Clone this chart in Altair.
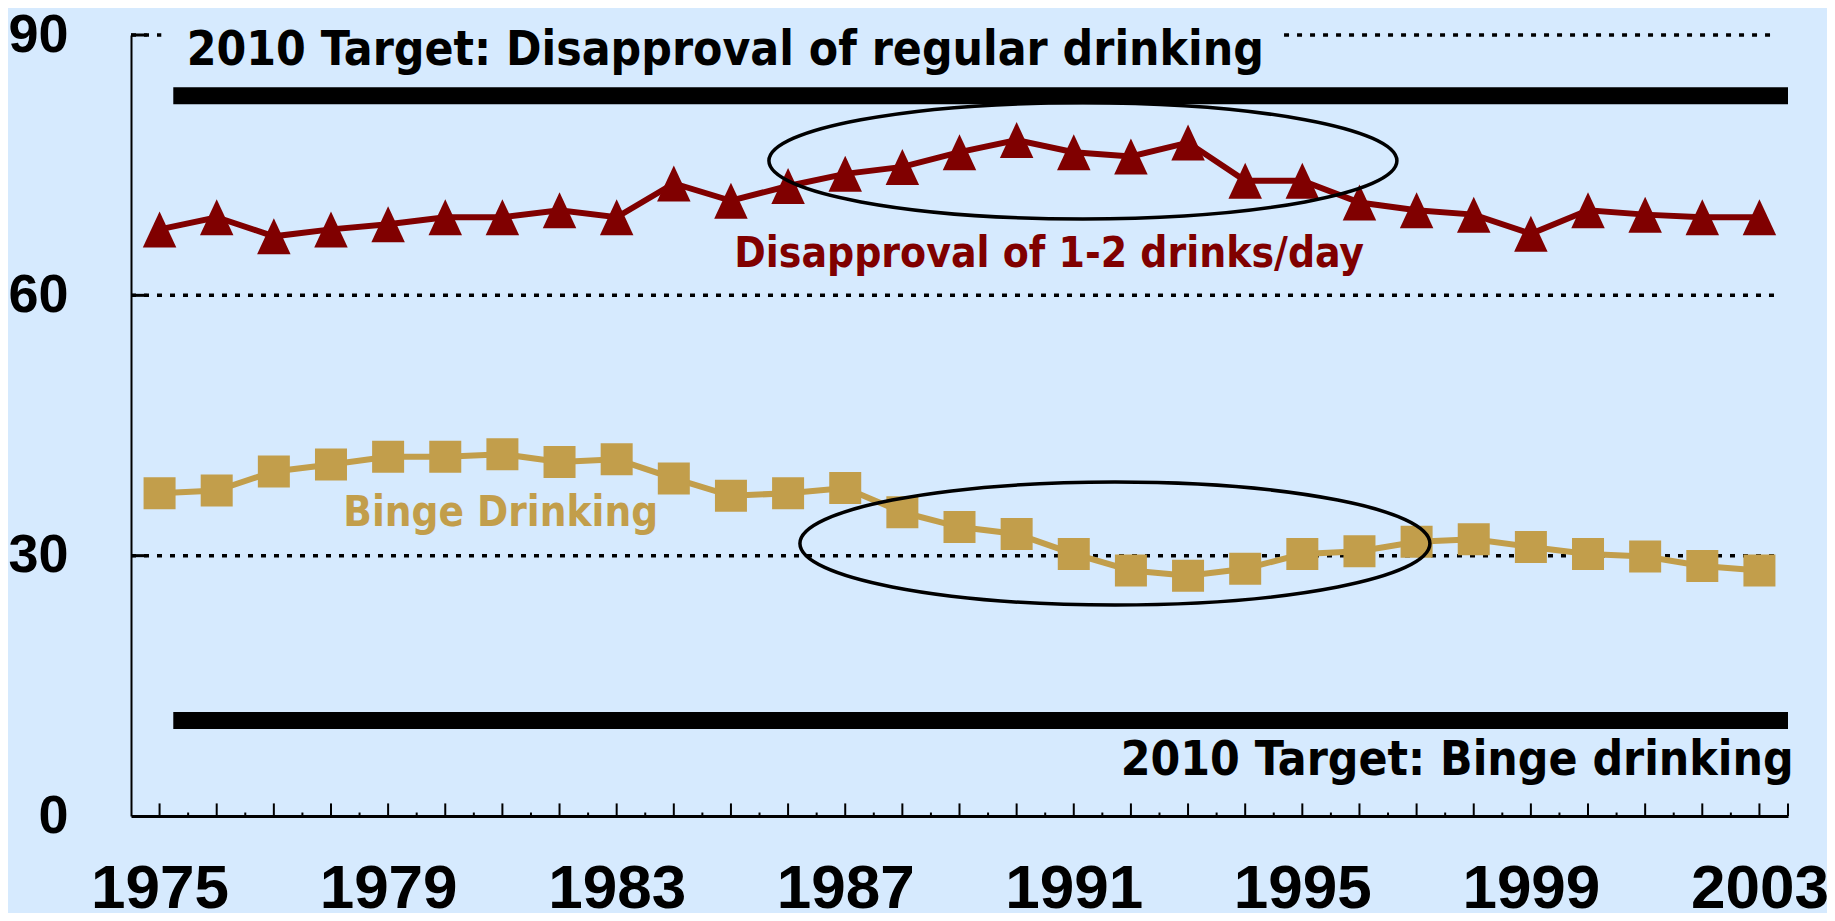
import altair as alt
import pandas as pd

years = list(range(1975, 2004))
disapproval = [67.6, 69.0, 66.8, 67.6, 68.2, 69.0, 69.0, 69.8, 69.0, 72.9,
               70.9, 72.6, 74.0, 74.8, 76.5, 77.9, 76.5, 76.0, 77.6, 73.2,
               73.2, 70.7, 69.8, 69.3, 67.1, 69.8, 69.3, 69.0, 69.0]
binge = [37.2, 37.5, 39.7, 40.5, 41.4, 41.4, 41.7, 40.8, 41.1, 38.9,
         36.9, 37.2, 37.8, 35.0, 33.3, 32.5, 30.2, 28.3, 27.7, 28.5,
         30.2, 30.5, 31.6, 31.9, 31.0, 30.2, 29.9, 28.8, 28.3]
x_labels = [1975, 1979, 1983, 1987, 1991, 1995, 1999, 2003]
y_labels = [0, 30, 60, 90]
targets = [83, 11]
target_texts = ["2010 Target: Disapproval of regular drinking", "2010 Target: Binge drinking"]
series_texts = ["Disapproval of 1-2 drinks/day", "Binge Drinking"]

BG = "#D6EAFE"
RED = "#800000"
GOLD = "#C29E4B"
TFONT = "DejaVu Sans Condensed, DejaVu Sans"
AFONT = "Liberation Sans Narrow, Liberation Sans"

xs = alt.Scale(domain=[1974.5, 2003.5], nice=False, zero=False)
ys = alt.Scale(domain=[0, 90], nice=False, zero=False)
xaxis = alt.Axis(values=x_labels, format="d", title=None, grid=False, ticks=False,
                 domainColor="black", domainWidth=3, labelFont=AFONT,
                 labelFontSize=62, labelFontWeight="bold", labelColor="black",
                 labelPadding=42, labelFlush=False, labelOverlap=False)
yaxis = alt.Axis(values=y_labels, title=None, grid=False, ticks=False,
                 domainColor="black", domainWidth=2, labelFont=AFONT,
                 labelFontSize=54, labelFontWeight="bold", labelColor="black",
                 labelPadding=63)


def X(f="x"):
    return alt.X(f"{f}:Q", scale=xs, axis=xaxis)


def Y(f="y"):
    return alt.Y(f"{f}:Q", scale=ys, axis=yaxis)


series = pd.DataFrame({"x": years, "d": disapproval, "b": binge})

# dotted gridlines (top one interrupted by the title box)
grid = pd.DataFrame({
    "x": [1974.5, 1974.5, 1974.5, 1994.68],
    "x2": [2003.3, 2003.3, 1975.03, 2003.3],
    "y": [30, 60, 90, 90],
})
grid_layer = alt.Chart(grid).mark_rule(color="black", strokeWidth=3.5, strokeDash=[5, 8]).encode(
    x=X(), x2="x2:Q", y=Y())

# y ticks (inward)
ytk = pd.DataFrame({"x": [1974.5] * 3, "x2": [1974.78] * 3, "y": [30, 60, 90]})
ytick_layer = alt.Chart(ytk).mark_rule(color="black", strokeWidth=3).encode(
    x=X(), x2="x2:Q", y=Y())

# x ticks: major at years, minor at half-years
major = pd.DataFrame({"x": years + [2003.5], "y": 0, "y2": 1.45})
minor = pd.DataFrame({"x": [y + 0.5 for y in years[:-1]], "y": 0, "y2": 0.4})
major_layer = alt.Chart(major).mark_rule(color="black", strokeWidth=2).encode(
    x=X(), y=Y(), y2="y2:Q")
minor_layer = alt.Chart(minor).mark_rule(color="black", strokeWidth=2).encode(
    x=X(), y=Y(), y2="y2:Q")

# target lines
tgt = pd.DataFrame({"x": [1975.24, 1975.24], "x2": [2003.5, 2003.5], "y": targets})
tgt_layer = alt.Chart(tgt).mark_rule(color="black", strokeWidth=17, strokeCap="butt").encode(
    x=X(), x2="x2:Q", y=Y())

# series
red_line = alt.Chart(series).mark_line(color=RED, strokeWidth=6).encode(x=X(), y=Y("d"))
red_pts = alt.Chart(series).mark_point(shape="M0,-1L0.93,1L-0.93,1Z", size=1296, filled=True,
                                       fill=RED, opacity=1, strokeWidth=0).encode(x=X(), y=Y("d"))
gold_line = alt.Chart(series).mark_line(color=GOLD, strokeWidth=6).encode(x=X(), y=Y("b"))
gold_pts = alt.Chart(series).mark_point(shape="square", size=1024, filled=True,
                                        fill=GOLD, opacity=1, strokeWidth=0).encode(x=X(), y=Y("b"))


def ellipse_path(r):
    k = 0.5523
    return (f"M-1,0C-1,{-k*r:.4f} {-k:.4f},{-r:.4f} 0,{-r:.4f}"
            f"C{k:.4f},{-r:.4f} 1,{-k*r:.4f} 1,0"
            f"C1,{k*r:.4f} {k:.4f},{r:.4f} 0,{r:.4f}"
            f"C{-k:.4f},{r:.4f} -1,{k*r:.4f} -1,0Z")


ell1 = alt.Chart(pd.DataFrame({"x": [1991.16], "y": [75.5]})).mark_point(
    shape=ellipse_path(0.185), size=628 ** 2, filled=False, stroke="black",
    strokeWidth=3.5, opacity=1).encode(x=X(), y=Y())
ell2 = alt.Chart(pd.DataFrame({"x": [1991.72], "y": [31.4]})).mark_point(
    shape=ellipse_path(0.195), size=630 ** 2, filled=False, stroke="black",
    strokeWidth=3.5, opacity=1).encode(x=X(), y=Y())

# texts
t_top = alt.Chart(pd.DataFrame({"x": [1984.9], "y": [86.5], "t": [target_texts[0]]})).mark_text(
    font=TFONT, fontSize=47.6, fontWeight="bold", color="black", align="center",
    baseline="alphabetic").encode(x=X(), y=Y(), text="t:N")
t_bot = alt.Chart(pd.DataFrame({"x": [1997.71], "y": [4.72], "t": [target_texts[1]]})).mark_text(
    font=TFONT, fontSize=47.6, fontWeight="bold", color="black", align="center",
    baseline="alphabetic").encode(x=X(), y=Y(), text="t:N")
t_red = alt.Chart(pd.DataFrame({"x": [1990.57], "y": [63.26], "t": [series_texts[0]]})).mark_text(
    font=TFONT, fontSize=42.2, fontWeight="bold", color=RED, align="center",
    baseline="alphabetic").encode(x=X(), y=Y(), text="t:N")
t_gold = alt.Chart(pd.DataFrame({"x": [1980.97], "y": [33.42], "t": [series_texts[1]]})).mark_text(
    font=TFONT, fontSize=41.8, fontWeight="bold", color=GOLD, align="center",
    baseline="alphabetic").encode(x=X(), y=Y(), text="t:N")

chart = alt.layer(
    grid_layer, ytick_layer, major_layer, minor_layer, tgt_layer,
    red_line, gold_line, red_pts, gold_pts, ell1, ell2,
    t_top, t_bot, t_red, t_gold,
).properties(
    width=1657, height=781,
    autosize=alt.AutoSizeParams(type="none"),
    padding={"left": 123, "top": 27, "right": 39, "bottom": 97},
    background=BG,
).configure_view(stroke=None)

chart.save("out.html", embed_options={"renderer": "svg", "actions": False})
